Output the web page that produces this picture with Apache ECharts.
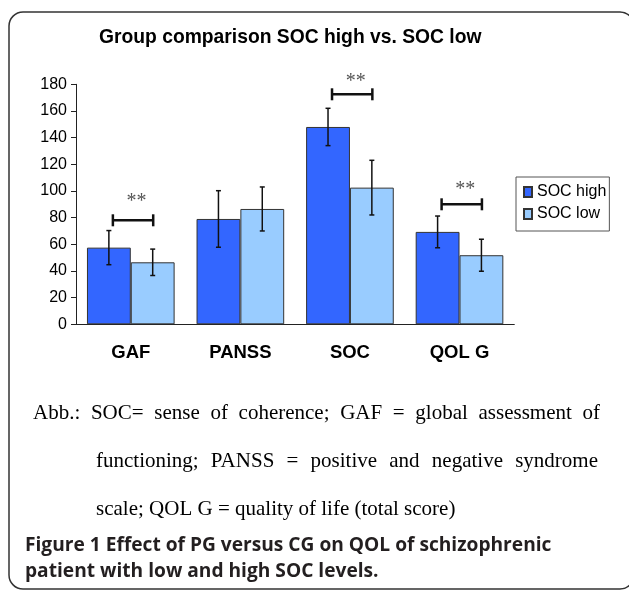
<!DOCTYPE html>
<html>
<head>
<meta charset="utf-8">
<script src="https://cdn.jsdelivr.net/npm/echarts@6/dist/echarts.min.js"></script>
<style>
html,body{margin:0;padding:0;background:#fff;}
#chart{width:629px;height:590px;}
</style>
</head>
<body>
<div id="chart"></div>
<script>
// ---- data ----
const categories = ['GAF', 'PANSS', 'SOC', 'QOL G'];
const seriesNames = ['SOC high', 'SOC low'];
const socHigh = [57.5, 79, 148, 69.3];
const socHighErr = [12.8, 21.2, 14, 11.9];
const socLow = [46.5, 86.5, 102.5, 51.8];
const socLowErr = [9.9, 16.5, 20.5, 12];
const sigCategories = [0, 2, 3];
const sigBracketY = [78, 172.5, 90];
const sigStarY = [96, 186, 105];
const sigLabel = '**';
const yMin = 0, yMax = 180, yStep = 20;

const chartTitle = 'Group comparison SOC high vs. SOC low';
const noteLines = [
  'Abb.: SOC= sense of coherence; GAF = global assessment of',
  'functioning; PANSS = positive and negative syndrome',
  'scale; QOL G = quality of life (total score)'
];
const figureCaption = [
  'Figure 1 Effect of PG versus CG on QOL of schizophrenic',
  'patient with low and high SOC levels.'
];

// ---- layout helpers ----
const SANS = '"Liberation Sans", Arial, sans-serif';
const SERIF = '"Liberation Serif", "Times New Roman", serif';
const CAP = '"Open Sans", "Noto Sans", sans-serif';
const measureCtx = document.createElement('canvas').getContext('2d');

function justified(text, x0, x1, y, size, family) {
  const words = text.split(' ');
  measureCtx.font = size + 'px ' + family;
  const widths = words.map(w => measureCtx.measureText(w).width);
  const total = widths.reduce((a, b) => a + b, 0);
  const gap = (x1 - x0 - total) / (words.length - 1);
  let x = x0;
  return words.map((w, i) => {
    const el = {type: 'text', x: x, y: y, z: 10,
      style: {text: w, fontSize: size, fontFamily: family, fill: '#000', verticalAlign: 'middle', align: 'left'}};
    x += widths[i] + gap;
    return el;
  });
}
function plain(text, x, y, size, family, weight, color) {
  return {type: 'text', x: x, y: y, z: 10,
    style: {text: text, fontSize: size, fontFamily: family, fontWeight: weight || 'normal',
      fill: color || '#000', verticalAlign: 'middle', align: 'left'}};
}
// font size so that a line spans the given width
function fitSize(text, width, family, weight) {
  measureCtx.font = weight + ' 100px ' + family;
  return 100 * width / measureCtx.measureText(text).width;
}
const capSize = fitSize(figureCaption[0], 527, CAP, 'bold');

function errRender(side) {
  return function (params, api) {
    const cat = api.value(0), mean = api.value(1), err = api.value(2);
    const band = api.size([1, 0])[0];
    const bw = band * 0.8 / 2;
    const off = side * bw / 2;
    const p1 = api.coord([cat, mean + err]);
    const p2 = api.coord([cat, mean - err]);
    const x = p1[0] + off;
    const st = {stroke: '#111', lineWidth: 1.5};
    return {type: 'group', children: [
      {type: 'line', shape: {x1: x, y1: p1[1], x2: x, y2: p2[1]}, style: st},
      {type: 'line', shape: {x1: x - 2.5, y1: p1[1], x2: x + 2.5, y2: p1[1]}, style: st},
      {type: 'line', shape: {x1: x - 2.5, y1: p2[1], x2: x + 2.5, y2: p2[1]}, style: st}
    ]};
  };
}

function sigRender(params, api) {
  const cat = api.value(0), by = api.value(1), sy = api.value(2);
  const c = api.coord([cat, by]);
  const band = api.size([1, 0])[0];
  const bw = band * 0.8 / 2;
  const xh = c[0] - bw / 2 + 4;
  const xl = c[0] + bw / 2 + 0.5;
  const y = c[1];
  const st = {stroke: '#111', lineWidth: 2.5};
  const s = api.coord([cat, sy]);
  return {type: 'group', children: [
    {type: 'line', shape: {x1: xh, y1: y, x2: xl, y2: y}, style: st},
    {type: 'line', shape: {x1: xh, y1: y - 6, x2: xh, y2: y + 6}, style: st},
    {type: 'line', shape: {x1: xl, y1: y - 6, x2: xl, y2: y + 6}, style: st},
    {type: 'text', x: (xh + xl) / 2 + 3.5, y: s[1] + 5,
      style: {text: sigLabel, fontSize: 20, fontFamily: SERIF, fill: '#555', align: 'center', verticalAlign: 'middle'}}
  ]};
}

const graphics = [
  {type: 'rect', shape: {x: 9, y: 12, width: 625, height: 577, r: 14}, z: 0,
    style: {fill: 'none', stroke: '#333', lineWidth: 1.5}},
  ...justified(noteLines[0], 33, 600, 413, 21, SERIF),
  ...justified(noteLines[1], 96, 598, 461, 21, SERIF),
  plain(noteLines[2], 96, 509, 21, SERIF),
  plain(figureCaption[0], 25, 546, capSize, CAP, 'bold', '#231f20'),
  plain(figureCaption[1], 25, 572, capSize, CAP, 'bold', '#231f20')
];

const chart = echarts.init(document.getElementById('chart'));
chart.setOption({
  animation: false,
  backgroundColor: '#fff',
  title: {
    text: chartTitle, left: 99, top: 28, padding: 0,
    textStyle: {fontFamily: SANS, fontSize: 19.3, fontWeight: 'bold', color: '#000'}
  },
  legend: {
    orient: 'vertical', left: 516, top: 177, padding: [7, 3, 9, 7],
    itemWidth: 8, itemHeight: 10, itemGap: 6, icon: 'rect',
    borderColor: '#555', borderWidth: 1,
    data: seriesNames,
    textStyle: {fontFamily: SANS, fontSize: 16, color: '#000'}
  },
  grid: {left: 76, right: 114.7, top: 84.3, bottom: 265.7},
  xAxis: {
    type: 'category', data: categories,
    axisLine: {lineStyle: {color: '#222', width: 1}},
    axisTick: {length: 6, lineStyle: {color: '#222'}},
    axisLabel: {margin: 19, fontFamily: SANS, fontSize: 18.5, fontWeight: 'bold', color: '#000'}
  },
  yAxis: {
    type: 'value', min: yMin, max: yMax, interval: yStep,
    axisLine: {show: true, lineStyle: {color: '#222', width: 1}},
    axisTick: {show: true, length: 5, lineStyle: {color: '#222'}},
    splitLine: {show: false},
    axisLabel: {margin: 9, fontFamily: SANS, fontSize: 16, color: '#000'}
  },
  graphic: {elements: graphics},
  series: [
    {name: seriesNames[0], type: 'bar', data: socHigh, barGap: '0%', barCategoryGap: '20%',
      itemStyle: {color: '#3366FF', borderColor: '#333', borderWidth: 1}},
    {name: seriesNames[1], type: 'bar', data: socLow, barGap: '0%', barCategoryGap: '20%',
      itemStyle: {color: '#99CCFF', borderColor: '#333', borderWidth: 1}},
    {type: 'custom', renderItem: errRender(-1), clip: false, z: 5,
      data: categories.map((c, i) => [i, socHigh[i], socHighErr[i]])},
    {type: 'custom', renderItem: errRender(1), clip: false, z: 5,
      data: categories.map((c, i) => [i, socLow[i], socLowErr[i]])},
    {type: 'custom', renderItem: sigRender, clip: false, z: 6,
      data: sigCategories.map((c, i) => [c, sigBracketY[i], sigStarY[i]])}
  ]
});
</script>
</body>
</html>
